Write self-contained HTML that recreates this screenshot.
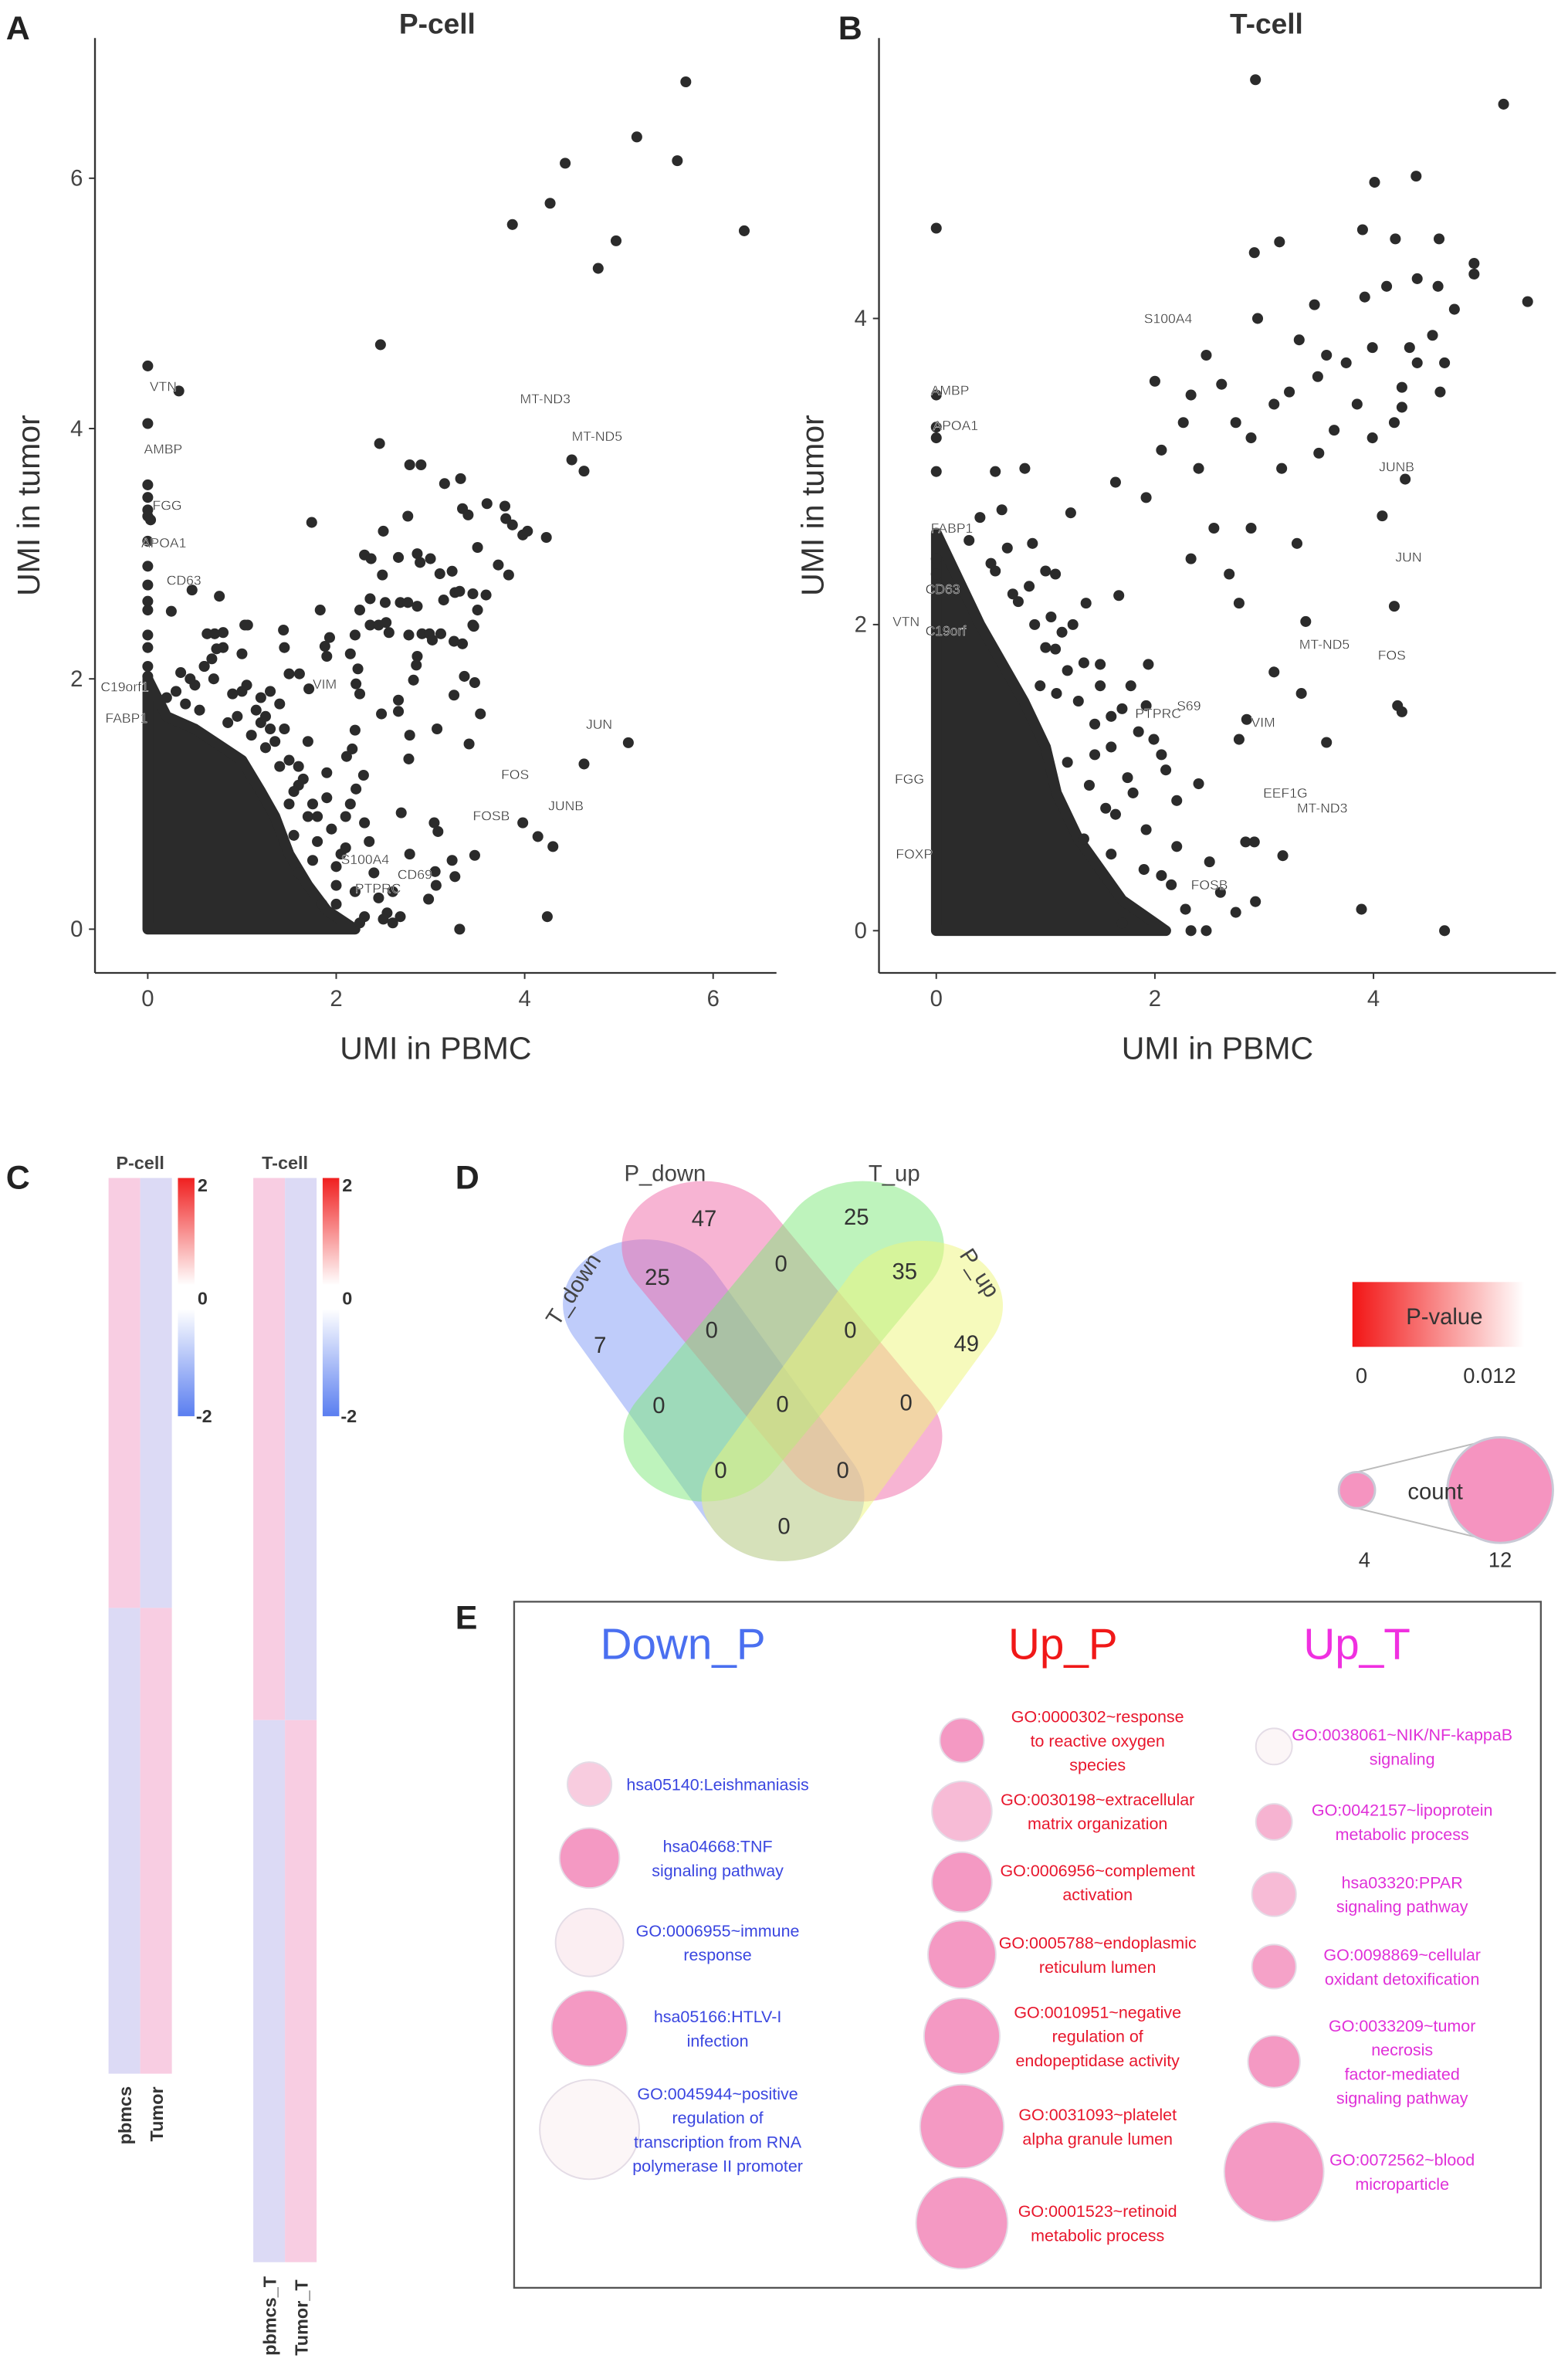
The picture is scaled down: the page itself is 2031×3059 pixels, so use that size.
<!DOCTYPE html>
<html><head><meta charset="utf-8"><style>
html,body{margin:0;padding:0;background:#fff;}
svg{display:block;font-family:"Liberation Sans",sans-serif;}
</style></head><body>
<svg id="fig" width="2031" height="3059" viewBox="0 0 1040 1566" xmlns="http://www.w3.org/2000/svg">
<rect width="1040" height="1566" fill="#fff"/>
<g font-weight="bold" font-size="22" fill="#222">
<text x="4" y="26">A</text>
<text x="556" y="26">B</text>
<text x="4" y="788">C</text>
<text x="302" y="788">D</text>
<text x="302" y="1080">E</text>
</g>
<text x="290" y="22" font-size="19" font-weight="bold" fill="#333" text-anchor="middle">P-cell</text>
<text x="840" y="22" font-size="19" font-weight="bold" fill="#333" text-anchor="middle">T-cell</text>
<g id="scatA"></g>
<g id="scatB"></g>

<!-- Heatmaps -->
<g id="heat">
<defs>
<linearGradient id="cbar" x1="0" y1="0" x2="0" y2="1"><stop offset="0" stop-color="#f02020"/><stop offset="0.45" stop-color="#ffffff"/><stop offset="0.55" stop-color="#ffffff"/><stop offset="1" stop-color="#5a7ef0"/></linearGradient>
<linearGradient id="pgrad" x1="0" y1="0" x2="1" y2="0"><stop offset="0" stop-color="#f21515"/><stop offset="1" stop-color="#ffffff"/></linearGradient>
</defs>
<text x="93" y="775" font-size="12" font-weight="bold" fill="#444" text-anchor="middle">P-cell</text>
<text x="189" y="775" font-size="12" font-weight="bold" fill="#444" text-anchor="middle">T-cell</text>
<g id="heatcells"></g>
<rect x="118" y="781" width="11" height="158" fill="url(#cbar)"/>
<rect x="214" y="781" width="11" height="158" fill="url(#cbar)"/>
<g font-size="12" font-weight="bold" fill="#333">
<text x="131" y="790">2</text><text x="131" y="865">0</text><text x="130" y="943">-2</text>
<text x="227" y="790">2</text><text x="227" y="865">0</text><text x="226" y="943">-2</text>
</g>
<g font-size="12" font-weight="bold" fill="#333">
<text transform="translate(87,1422) rotate(-90)">pbmcs</text>
<text transform="translate(108,1420) rotate(-90)">Tumor</text>
<text transform="translate(183,1562) rotate(-90)">pbmcs_T</text>
<text transform="translate(204,1562) rotate(-90)">Tumor_T</text>
</g>
</g>

<!-- Venn -->
<g id="venn">
<g transform="translate(358.4,752.7) scale(0.2298,0.184)">
<line x1="300" y1="610" x2="700" y2="1300" stroke="#8aa3f5" stroke-opacity="0.55" stroke-width="470" stroke-linecap="round"/>
<line x1="470" y1="400" x2="925" y2="1085" stroke="#f06aa8" stroke-opacity="0.5" stroke-width="470" stroke-linecap="round"/>
<line x1="930" y1="400" x2="475" y2="1085" stroke="#7ee87a" stroke-opacity="0.5" stroke-width="470" stroke-linecap="round"/>
<line x1="1100" y1="615" x2="700" y2="1300" stroke="#eef57a" stroke-opacity="0.5" stroke-width="470" stroke-linecap="round"/>
</g>
<g font-size="15" fill="#444">
<text x="414" y="783">P_down</text>
<text x="576" y="783">T_up</text>
<text transform="translate(370,880) rotate(-57)">T_down</text>
<text transform="translate(636,832) rotate(57)">P_up</text>
</g>
<g font-size="15" fill="#333" text-anchor="middle">
<text x="467" y="813">47</text><text x="568" y="812">25</text><text x="436" y="852">25</text><text x="518" y="843">0</text><text x="600" y="848">35</text>
<text x="398" y="897">7</text><text x="472" y="887">0</text><text x="564" y="887">0</text><text x="641" y="896">49</text>
<text x="437" y="937">0</text><text x="519" y="936">0</text><text x="601" y="935">0</text><text x="478" y="980">0</text><text x="559" y="980">0</text><text x="520" y="1017">0</text>
</g>
</g>

<!-- Legends -->
<g>
<rect x="897" y="850" width="114" height="43" fill="url(#pgrad)"/>
<text x="958" y="878" font-size="15" fill="#333" text-anchor="middle">P-value</text>
<text x="903" y="917" font-size="14" fill="#333" text-anchor="middle">0</text>
<text x="988" y="917" font-size="14" fill="#333" text-anchor="middle">0.012</text>
</g>
<g>
<line x1="900" y1="976" x2="995" y2="953" stroke="#bbb"/>
<line x1="900" y1="1000" x2="995" y2="1023" stroke="#bbb"/>
<circle cx="900" cy="988" r="12" fill="#f594c0" stroke="#c9c9d6" stroke-width="1.5"/>
<circle cx="995" cy="988" r="35" fill="#f594c0" stroke="#c9c9d6" stroke-width="1.5"/>
<text x="952" y="994" font-size="15" fill="#333" text-anchor="middle">count</text>
<text x="905" y="1039" font-size="14" fill="#333" text-anchor="middle">4</text>
<text x="995" y="1039" font-size="14" fill="#333" text-anchor="middle">12</text>
</g>

<!-- Panel E -->
<g id="paneE">
<rect x="341" y="1062" width="681" height="455" fill="#fff" stroke="#555" stroke-width="1.2"/>
<text x="453" y="1100" font-size="29" fill="#4a6ff0" text-anchor="middle">Down_P</text>
<text x="705" y="1100" font-size="29" fill="#f01818" text-anchor="middle">Up_P</text>
<text x="900" y="1100" font-size="29" fill="#f030e0" text-anchor="middle">Up_T</text>
<g id="bubbles"></g>
</g>
</svg>
<script>
var NS="http://www.w3.org/2000/svg";
// ---------- Panel A data ----------
var aPointsX=[5.71,5.19,4.43,5.62,4.27,3.87,4.97,4.78,6.33,2.47,2.46,4.5,4.63,5.1,4.63,3.98,4.14,4.3,3.47,4.24,3.31,0,0.33,0,1.74,2.78,2.9,3.15,3.32,3.6,3.79,3.8,3.87,3.98,4.03,4.23,3.34,3.4,2.5,2.76,3.5,3.72,3.83,2.3,2.37,2.66,2.86,2.89,3.0,3.1,3.23,2.49,3.14,3.26,3.31,3.45,3.59,3.5,2.68,2.76,2.86,2.52,2.36,1.83,2.25,2.36,2.45,2.53,2.56,2.77,2.91,2.99,3.11,3.02,3.25,3.34,3.45,3.46,2.86,2.85,3.36,3.47,2.82,3.25,3.53,3.07,3.41,2.66,2.66,2.48,2.78,2.77,2.69,3.04,3.08,2.78,3.23,3.26,3.05,3.06,2.98,2.68,2.54,2.29,2.21,2.17,2.11,2.2,2.25,2.21,2.23,2.15,1.93,1.88,1.9,2.2,1.71,1.61,1.5,1.45,1.44,1.03,1.06,0.76,0.47,0.25,0.63,0.71,0.8,0.73,0.68,0,0,0,0,0.03,0,0,0,0,0,0,0,0,0,1.5,1.7,1.8,2.0,2.2,2.0,2.3,2.5,1.6,1.3,1.2,1.4,1.9,2.3,2.1,1.55,1.0,0.9,0.7,0.5,0.3,
 0.2,0.4,0.55,0.85,1.1,1.25,1.4,1.6,1.75,1.95,2.05,2.4,2.6,1.15,1.35,1.5,1.65,1.8,2.1,0.35,0.6,0.95,1.2,1.45,1.7,1.9,2.15,2.35,1.05,1.3,1.55,1.75,1.0,0.8,0.6,0.45,1.25,1.6,2.0,2.45,2.6,1.85,2.25];
var aPointsY=[6.77,6.33,6.12,6.14,5.8,5.63,5.5,5.28,5.58,4.67,3.88,3.75,3.66,1.49,1.32,0.85,0.74,0.66,0.59,0.1,0,4.5,4.3,4.04,3.25,3.71,3.71,3.56,3.6,3.4,3.38,3.28,3.23,3.15,3.18,3.13,3.36,3.31,3.18,3.3,3.05,2.91,2.83,2.99,2.96,2.97,3.0,2.93,2.96,2.84,2.86,2.83,2.63,2.69,2.7,2.68,2.67,2.55,2.61,2.61,2.58,2.61,2.64,2.55,2.55,2.43,2.43,2.45,2.37,2.35,2.36,2.36,2.36,2.31,2.3,2.28,2.43,2.42,2.18,2.11,2.02,1.97,1.99,1.87,1.72,1.6,1.48,1.83,1.74,1.72,1.55,1.36,0.93,0.85,0.78,0.6,0.55,0.42,0.46,0.35,0.24,0.1,0.13,1.23,1.12,1.44,1.38,1.59,1.88,1.96,2.08,2.2,2.33,2.26,2.18,2.35,1.92,2.04,2.04,2.25,2.39,2.43,2.43,2.66,2.71,2.54,2.36,2.36,2.37,2.24,2.16,3.55,3.45,3.35,3.3,3.27,3.1,2.9,2.75,2.62,2.55,2.35,2.25,2.1,2.02,1.0,0.9,0.7,0.5,0.3,0.2,0.1,0.08,1.3,1.6,1.85,1.8,1.05,0.85,0.65,0.75,1.9,1.88,2.0,1.95,1.9,
 1.85,1.8,1.75,1.65,1.55,1.45,1.3,1.15,1.0,0.8,0.6,0.45,0.3,1.75,1.5,1.35,1.2,0.9,0.9,2.05,2.1,1.7,1.65,1.6,1.5,1.25,1.0,0.7,1.95,1.9,1.1,0.55,2.2,2.25,2.1,2.0,1.7,0.45,0.35,0.25,0.05,0.2,0.05];
var aDenseX=[0,0,0.2,0.5,0.8,1.0,1.2,1.35,1.5,1.7,1.9,2.1,2.2];
var aDenseY=[0,2.0,1.7,1.6,1.45,1.35,1.1,0.9,0.6,0.35,0.15,0.05,0];
var aLabels=["VTN","AMBP","FGG","APOA1","CD63","C19orf1","FABP1","VIM","MT-ND3","MT-ND5","JUN","FOS","JUNB","FOSB","S100A4","PTPRC","CD69"];
var aLabelX=[0.02,-0.04,0.05,-0.07,0.2,-0.5,-0.45,1.75,3.95,4.5,4.65,3.75,4.25,3.45,2.05,2.2,2.65];
var aLabelY=[4.3,3.8,3.35,3.05,2.75,1.9,1.65,1.92,4.2,3.9,1.6,1.2,0.95,0.87,0.52,0.29,0.4];
var aXTicks=[0,2,4,6], aYTicks=[0,2,4,6];
// ---------- Panel B data ----------
var bPointsX=[2.92,5.19,0,4.01,4.39,2.91,3.14,3.9,4.2,4.6,4.92,4.92,5.41,2.94,3.46,3.92,4.12,4.4,4.59,4.74,4.54,4.33,4.4,3.99,3.75,3.57,3.49,3.32,3.23,3.09,2.47,2.0,2.33,2.61,2.74,2.26,2.88,3.16,3.5,3.85,3.64,3.99,4.29,4.08,4.61,4.65,4.26,4.26,4.19,2.4,1.92,2.06,2.33,2.68,2.54,2.88,3.3,2.77,3.38,3.09,3.34,3.57,4.19,4.22,4.26,2.84,2.77,2.91,2.83,3.17,2.92,3.89,4.65,2.28,2.33,2.47,2.74,2.06,1.92,1.64,2.4,1.99,1.92,1.6,1.09,1.37,1.67,1.09,0.88,1.23,1.64,0.54,0.81,0,0,0,0,0,0,0.54,1.5,1.78,1.94,2.06,
 0.3,0.5,0.7,0.9,1.0,1.2,1.3,1.45,1.6,1.75,1.2,1.4,1.55,0.85,1.05,1.15,1.35,1.5,1.7,1.85,2.1,2.2,0.4,0.65,1.0,1.25,1.1,1.45,1.8,0.6,0.75,0.95,1.35,1.6,1.9,2.15,2.5,2.6,2.2,1.7];
var bPointsY=[5.56,5.4,4.59,4.89,4.93,4.43,4.5,4.58,4.52,4.52,4.36,4.29,4.11,4.0,4.09,4.14,4.21,4.26,4.21,4.06,3.89,3.81,3.71,3.81,3.71,3.76,3.62,3.86,3.52,3.44,3.76,3.59,3.5,3.57,3.32,3.32,3.22,3.02,3.12,3.44,3.27,3.22,2.95,2.71,3.52,3.71,3.55,3.42,3.32,3.02,2.83,3.14,2.43,2.33,2.63,2.63,2.53,2.14,2.02,1.69,1.55,1.23,2.12,1.47,1.43,1.38,1.25,0.58,0.58,0.49,0.19,0.14,0,0.14,0,0,0.12,0.36,0.66,0.76,0.96,1.25,1.47,1.4,1.84,2.14,2.19,2.33,2.53,2.73,2.93,3.0,3.02,3.5,3.29,3.22,3.0,2.43,2.33,2.35,1.74,1.6,1.74,1.15,
 2.55,2.4,2.2,2.0,1.85,1.7,1.5,1.35,1.2,1.0,1.1,0.95,0.8,2.25,2.05,1.95,1.75,1.6,1.45,1.3,1.05,0.85,2.7,2.5,2.35,2.0,1.55,1.15,0.9,2.75,2.15,1.6,0.6,0.5,0.4,0.3,0.45,0.25,0.55,0.05];
var bDenseX=[0,0,0.2,0.4,0.6,0.8,1.0,1.1,1.3,1.5,1.7,2.0,2.1];
var bDenseY=[0,2.6,2.3,2.0,1.75,1.5,1.2,0.9,0.6,0.4,0.2,0.05,0];
var bLabels=["S100A4","AMBP","APOA1","FABP1","CD63","VTN","C19orf","FGG","FOXP","JUNB","JUN","MT-ND5","FOS","PTPRC","S69","VIM","EEF1G","MT-ND3","FOSB"];
var bLabelX=[1.9,-0.05,-0.03,-0.05,-0.1,-0.4,-0.1,-0.38,-0.37,4.05,4.2,3.32,4.04,1.82,2.2,2.88,2.99,3.3,2.33];
var bLabelY=[3.97,3.5,3.27,2.6,2.2,1.99,1.93,0.96,0.47,3.0,2.41,1.84,1.77,1.39,1.44,1.33,0.87,0.77,0.27];
var bXTicks=[0,2,4], bYTicks=[0,2,4];

function mk(tag,attrs,parent){var e=document.createElementNS(NS,tag);for(var k in attrs)e.setAttribute(k,attrs[k]);if(parent)parent.appendChild(e);return e;}

function scatter(gid,ax,pX,pY,dX,dY,labs,lX,lY,xt,yt){
  var g=document.getElementById(gid);
  var sx=function(v){return ax.x0+v*ax.kx;}, sy=function(v){return ax.y0-v*ax.ky;};
  mk('line',{x1:ax.left,y1:ax.top,x2:ax.left,y2:ax.bottom,stroke:'#333','stroke-width':1.2},g);
  mk('line',{x1:ax.left,y1:ax.bottom,x2:ax.right,y2:ax.bottom,stroke:'#333','stroke-width':1.2},g);
  xt.forEach(function(t){
    mk('line',{x1:sx(t),y1:ax.bottom,x2:sx(t),y2:ax.bottom+4,stroke:'#333'},g);
    var tx=mk('text',{x:sx(t),y:ax.bottom+22,'font-size':15,fill:'#444','text-anchor':'middle'},g);tx.textContent=t;
    
    
  });
  yt.forEach(function(t){
    mk('line',{x1:ax.left-4,y1:sy(t),x2:ax.left,y2:sy(t),stroke:'#333'},g);
    var tx=mk('text',{x:ax.left-8,y:sy(t)+5,'font-size':15,fill:'#444','text-anchor':'end'},g);tx.textContent=t;
    
    
  });
  var pts=dX.map(function(v,i){return sx(v)+','+sy(dY[i]);}).join(' ');
  var poly=mk('polygon',{points:pts,fill:'#2b2b2b',stroke:'#2b2b2b','stroke-width':7,'stroke-linejoin':'round'},g);
  
  
  pX.forEach(function(v,i){
    var c=mk('circle',{cx:sx(v),cy:sy(pY[i]),r:3.6,fill:'#2b2b2b'},g);
    
    
  });
  labs.forEach(function(s,i){
    var t=mk('text',{x:sx(lX[i]),y:sy(lY[i]),'font-size':9,fill:'#333',stroke:'#fff','stroke-width':0.2},g);t.textContent=s;
    
    
  });
  var xl=mk('text',{x:(ax.left+ax.right)/2,y:ax.bottom+57,'font-size':21,fill:'#333','text-anchor':'middle'},g);xl.textContent='UMI in PBMC';
  
  
  var yl=mk('text',{transform:'translate('+(ax.left-37)+','+((ax.top+ax.bottom)/2)+') rotate(-90)','font-size':21,fill:'#333','text-anchor':'middle'},g);yl.textContent='UMI in tumor';
  
  
}
scatter('scatA',{left:63,right:515,top:25,bottom:645,x0:98,kx:62.5,y0:616,ky:83},aPointsX,aPointsY,aDenseX,aDenseY,aLabels,aLabelX,aLabelY,aXTicks,aYTicks);
scatter('scatB',{left:583,right:1032,top:25,bottom:645,x0:621,kx:72.5,y0:617,ky:101.5},bPointsX,bPointsY,bDenseX,bDenseY,bLabels,bLabelX,bLabelY,bXTicks,bYTicks);

// ---------- Heatmap data (z-score blocks) ----------
var heatGroups=["P-cell","T-cell"];
var heatSplitFrac=[0.48,0.5];
var heatColumns=[[72,1375],[168,1500]];
(function(){
  var g=document.getElementById('heatcells');
  var pink='#f8cde2', lav='#dcdaf5';
  heatGroups.forEach(function(name,i){
    var x=heatColumns[i][0], bottom=heatColumns[i][1], top=781, w=21;
    var split=top+(bottom-top)*heatSplitFrac[i];
    var cells=[[x,top,split,pink],[x+w,top,split,lav],[x,split,bottom,lav],[x+w,split,bottom,pink]];
    cells.forEach(function(c){
      var r=mk('rect',{x:c[0],y:c[1],width:w,height:c[2]-c[1],fill:c[3]},g);
      
      
    });
  });
})();

// ---------- Bubble chart data ----------
var termsDownP=["hsa05140:Leishmaniasis","hsa04668:TNF|signaling pathway","GO:0006955~immune|response","hsa05166:HTLV-I|infection","GO:0045944~positive|regulation of|transcription from RNA|polymerase II promoter"];
var countDownP=[5,7,8,9,12];
var pvalDownP=[0.007,0.001,0.011,0.001,0.012];
var termsUpP=["GO:0000302~response|to reactive oxygen|species","GO:0030198~extracellular|matrix organization","GO:0006956~complement|activation","GO:0005788~endoplasmic|reticulum lumen","GO:0010951~negative|regulation of|endopeptidase activity","GO:0031093~platelet|alpha granule lumen","GO:0001523~retinoid|metabolic process"];
var countUpP=[5,7,7,8,9,10,11];
var pvalUpP=[0.001,0.005,0.001,0.001,0.001,0.001,0.001];
var termsUpT=["GO:0038061~NIK/NF-kappaB|signaling","GO:0042157~lipoprotein|metabolic process","hsa03320:PPAR|signaling pathway","GO:0098869~cellular|oxidant detoxification","GO:0033209~tumor|necrosis|factor-mediated|signaling pathway","GO:0072562~blood|microparticle"];
var countUpT=[4,4,5,5,6,12];
var pvalUpT=[0.012,0.004,0.005,0.002,0.001,0.001];
(function(){
  var g=document.getElementById('bubbles');
  function rad(c){return 12+(c-4)*(21/8);}
  function col(p){var f=p/0.012;var r=Math.round(243+(252-243)*f),gg=Math.round(145+(246-145)*f),b=Math.round(190+(247-190)*f);return 'rgb('+r+','+gg+','+b+')';}
  var cols=[
    {terms:termsDownP,counts:countDownP,p:pvalDownP,cx:391,tx:476,ys:[1183,1232,1288,1345,1412],color:'#3a46e0'},
    {terms:termsUpP,counts:countUpP,p:pvalUpP,cx:638,tx:728,ys:[1154,1201,1248,1296,1350,1410,1474],color:'#e8162c'},
    {terms:termsUpT,counts:countUpT,p:pvalUpT,cx:845,tx:930,ys:[1158,1208,1256,1304,1367,1440],color:'#e030d8'}];
  cols.forEach(function(c,ci){
    c.terms.forEach(function(t,i){
      var cy=c.ys[i];
      var circ=mk('circle',{cx:c.cx,cy:cy,r:rad(c.counts[i]),fill:col(c.p[i]),stroke:'#e4dce6','stroke-width':1},g);
      
      
      var lines=t.split('|');
      var txt=mk('text',{x:c.tx,'font-size':11,fill:c.color,'text-anchor':'middle'},g);
      
      
      var startY=cy+4-(lines.length-1)*8;
      lines.forEach(function(l,j){var ts=mk('tspan',{x:c.tx,y:startY+j*16},txt);ts.textContent=l;});
    });
  });
})();
</script>
</body></html>
